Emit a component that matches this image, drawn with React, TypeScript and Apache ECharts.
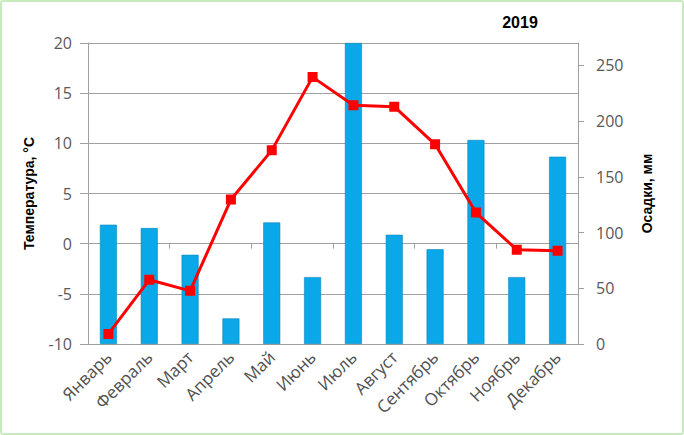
import React, { useEffect, useRef } from "react";
import * as echarts from "echarts";

const months = ["Январь", "Февраль", "Март", "Апрель", "Май", "Июнь", "Июль", "Август", "Сентябрь", "Октябрь", "Ноябрь", "Декабрь"];
const precipitation = [107, 104, 80, 23, 109, 60, 270, 98, 85, 183, 60, 168];
const temperature = [-9.0, -3.6, -4.7, 4.4, 9.3, 16.6, 13.8, 13.65, 9.9, 3.1, -0.6, -0.7];
const title = "2019";
const leftName = "Температура, °С";
const rightName = "Осадки, мм";

export default function App() {
  const ref = useRef<HTMLDivElement>(null);
  useEffect(() => {
    if (!ref.current) return;
    const chart = echarts.init(ref.current, null, { renderer: "svg" });
    const gray = "#a0a0a0";
    const labelFont = { fontFamily: "Open Sans", fontSize: 16, color: "#595959" };
    chart.setOption({
      animation: false,
      backgroundColor: "#ffffff",
      title: {
        text: title,
        left: 515,
        top: 9,
        textAlign: "center",
        textStyle: { fontFamily: "Liberation Sans", fontWeight: "bold", fontSize: 16, color: "#000" },
      },
      grid: { left: 88, right: 106, top: 43, bottom: 91, containLabel: false },
      xAxis: [
        {
          type: "category",
          data: months,
          position: "bottom",
          axisLine: { show: false, onZero: false },
          axisTick: { show: false },
          axisLabel: { ...labelFont, fontSize: 17, color: "#505050", rotate: 45, margin: 10, interval: 0 },
          splitLine: { show: false },
        },
        {
          type: "category",
          data: months,
          position: "bottom",
          axisLine: { show: true, onZero: true, onZeroAxisIndex: 0, lineStyle: { color: gray, width: 1 } },
          axisTick: { show: true, length: 5, lineStyle: { color: gray } },
          axisLabel: { show: false },
          splitLine: { show: false },
        },
      ],
      yAxis: [
        {
          type: "value",
          min: -10,
          max: 20,
          interval: 5,
          name: leftName,
          nameLocation: "middle",
          nameGap: 52,
          nameTextStyle: { fontFamily: "Liberation Sans", fontWeight: "bold", fontSize: 14, color: "#000" },
          axisLine: { show: true, lineStyle: { color: gray } },
          axisTick: { show: true, length: 8, lineStyle: { color: gray } },
          axisLabel: { ...labelFont, margin: 16 },
          splitLine: { show: true, lineStyle: { color: gray, width: 1 } },
        },
        {
          type: "value",
          min: 0,
          max: 270,
          interval: 50,
          position: "right",
          name: rightName,
          nameLocation: "middle",
          nameGap: 62,
          nameRotate: 90,
          nameTextStyle: { fontFamily: "Liberation Sans", fontWeight: "bold", fontSize: 14, color: "#000" },
          axisLine: { show: true, lineStyle: { color: gray } },
          axisTick: { show: true, length: 6, lineStyle: { color: gray } },
          axisLabel: { ...labelFont, margin: 18, showMaxLabel: false },
          splitLine: { show: false },
        },
      ],
      series: [
        {
          type: "bar",
          data: precipitation,
          xAxisIndex: 0,
          yAxisIndex: 1,
          barWidth: 17,
          itemStyle: { color: "#0aa8e8", borderColor: "#0b86bd", borderWidth: 0.6 },
        },
        {
          type: "line",
          data: temperature,
          xAxisIndex: 0,
          yAxisIndex: 0,
          symbol: "rect",
          symbolSize: 10,
          lineStyle: { color: "#ff0000", width: 3 },
          itemStyle: { color: "#ff0000" },
          z: 5,
        },
      ],
    });
    return () => chart.dispose();
  }, []);
  return (
    <div
      style={{
        position: "fixed",
        left: 0,
        top: 0,
        width: 684,
        height: 435,
        boxSizing: "border-box",
        border: "2px solid #c8ebbd",
        borderRadius: 3,
        background: "#fff",
        overflow: "hidden",
      }}
    >
      <div ref={ref} style={{ position: "absolute", left: -2, top: -2, width: 684, height: 435 }} />
    </div>
  );
}
